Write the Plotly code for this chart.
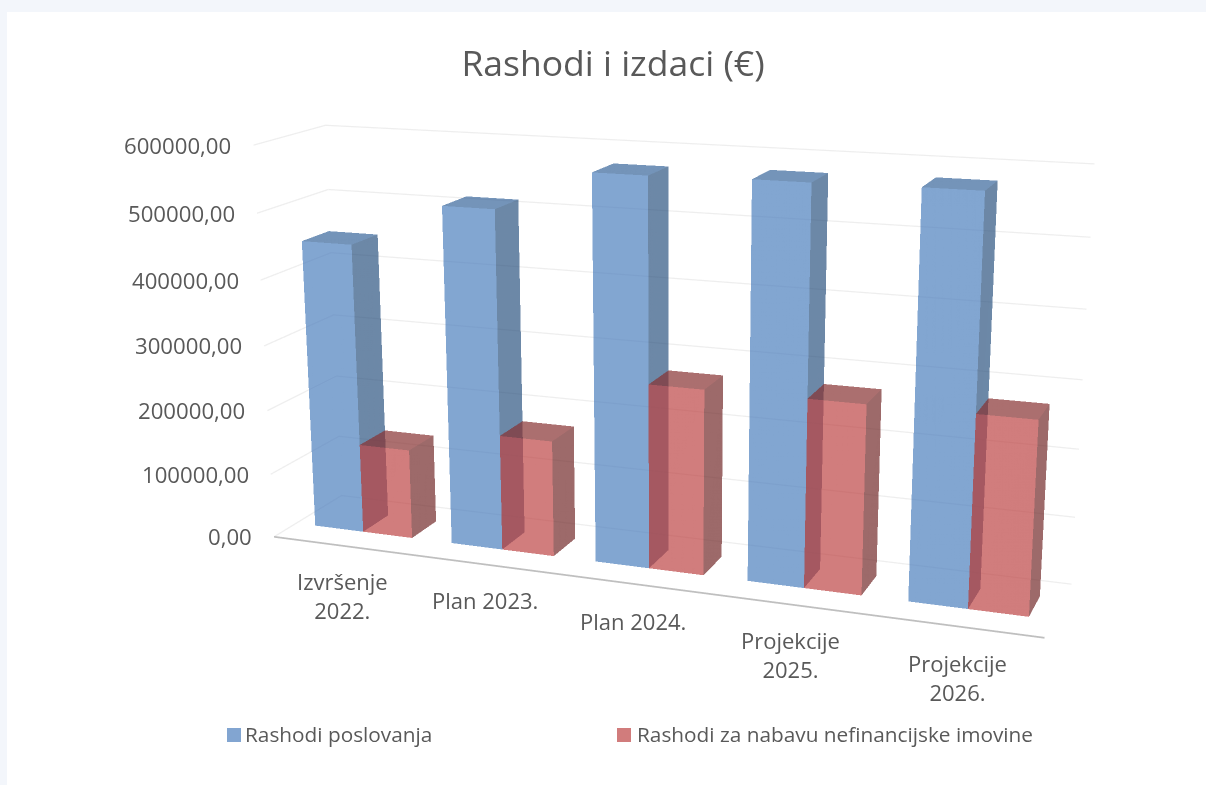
import plotly.graph_objects as go

categories = ["Izvršenje<br>2022.", "Plan 2023.", "Plan 2024.", "Projekcije<br>2025.", "Projekcije<br>2026."]
rashodi_poslovanja = [448000, 515000, 576000, 579000, 581000]
rashodi_nabava = [139000, 177000, 277000, 278000, 279000]
z_ticks = [0, 100000, 200000, 300000, 400000, 500000, 600000]
z_labels = ["0,00", "100000,00", "200000,00", "300000,00", "400000,00", "500000,00", "600000,00"]
series_names = ["Rashodi poslovanja", "Rashodi za nabavu nefinancijske imovine"]
title_text = "Rashodi i izdaci (€)"

label_shift_x = [1, 2, 1, 0, 0]
label_shift_y = [-50, -36, -37, -50, -51]

TEXT = "#595959"
FONT = "Open Sans"
BAR_X = 0.1425
BAR_W = 0.3575
Y0, Y1 = 0.3177, 0.7047
WIN_W, WIN_H = 1206, 785
FIG_H = 1729                     # scene height that gives the chart's weak perspective
TOP = FIG_H / 2 - WIN_H / 2      # the scene centre sits on the window centre


def py(y):
    return 1 - (y + TOP) / FIG_H


def px(x):
    return x / WIN_W


def bars(values, offset, front, side, top, name):
    xs, ys, zs, ii, jj, kk, cols = [], [], [], [], [], [], []
    for c, v in enumerate(values):
        x0 = c + offset
        x1 = x0 + BAR_W
        b = len(xs)
        xs += [x0, x1, x1, x0, x0, x1, x1, x0]
        ys += [Y0, Y0, Y1, Y1, Y0, Y0, Y1, Y1]
        zs += [0, 0, 0, 0, v, v, v, v]
        faces = [(1, 2, 6, side), (1, 6, 5, side), (4, 5, 6, top), (4, 6, 7, top),
                 (0, 1, 5, front), (0, 5, 4, front)]
        for a, d, e, col in faces:
            ii.append(b + a); jj.append(b + d); kk.append(b + e); cols.append(col)
    return go.Mesh3d(x=xs, y=ys, z=zs, i=ii, j=jj, k=kk, facecolor=cols, flatshading=True,
                     lighting=dict(ambient=1, diffuse=0, specular=0, roughness=1, fresnel=0),
                     opacity=0.7, name=name, hoverinfo="skip", showscale=False, showlegend=False)


BLUE = "#82a5d1"
RED = "#d17c7c"
fig = go.Figure()

gx, gy, gz = [], [], []
for t in z_ticks:
    gx += [0, 0, 5, None]
    gy += [0, 1, 1, None]
    gz += [t, t, t, None]
fig.add_trace(go.Scatter3d(x=gx, y=gy, z=gz, mode="lines", line=dict(color="#eeeeee", width=2.5),
                           hoverinfo="skip", showlegend=False, name="grid"))
fig.add_trace(go.Scatter3d(x=[0, 5], y=[0, 0], z=[0, 0], mode="lines", line=dict(color="#bfbfbf", width=3.5),
                           hoverinfo="skip", showlegend=False, name="axis"))
fig.add_trace(bars(rashodi_poslovanja, BAR_X, "#4c7fbd", "#2d5480", "#38659a", series_names[0]))
fig.add_trace(bars(rashodi_nabava, BAR_X + BAR_W, "#bd4444", "#722a2a", "#873131", series_names[1]))

annots = []
for c, lab in enumerate(categories):
    annots.append(dict(x=c + 0.5, y=0, z=0, text=lab, showarrow=False,
                       xshift=label_shift_x[c], yshift=label_shift_y[c],
                       font=dict(family=FONT, size=22, color=TEXT)))
for t, lab in zip(z_ticks, z_labels):
    annots.append(dict(x=0, y=0, z=t, text=lab, showarrow=False, xanchor="right", xshift=-20, yshift=0,
                       font=dict(family=FONT, size=22.2, color=TEXT)))

axis_off = dict(showgrid=False, zeroline=False, showticklabels=False, showbackground=False,
                showline=False, title=dict(text=""), showspikes=False, ticks="")

legend_shapes = [
    dict(type="rect", xref="paper", yref="paper", x0=px(227), x1=px(241), y0=py(742), y1=py(728),
         fillcolor=BLUE, line_width=0),
    dict(type="rect", xref="paper", yref="paper", x0=px(617), x1=px(631), y0=py(742), y1=py(728),
         fillcolor=RED, line_width=0),
]
legend_text = [
    dict(xref="paper", yref="paper", x=px(243), y=py(734), xanchor="left", yanchor="middle", showarrow=False,
         text=series_names[0], font=dict(family=FONT, size=20.8, color=TEXT)),
    dict(xref="paper", yref="paper", x=px(635), y=py(734), xanchor="left", yanchor="middle", showarrow=False,
         text=series_names[1], font=dict(family=FONT, size=20.8, color=TEXT)),
]

fig.update_layout(
    width=WIN_W, height=FIG_H, margin=dict(l=0, r=0, t=0, b=0),
    paper_bgcolor="#f3f6fb",
    showlegend=False,
    title=dict(text=title_text, x=613 / WIN_W, xanchor="center", y=py(64), yanchor="middle",
               font=dict(family=FONT, size=35.5, color=TEXT)),
    shapes=[dict(type="rect", xref="paper", yref="paper", x0=px(7), x1=1, y0=0, y1=py(12),
                 fillcolor="white", line_width=0, layer="below")] + legend_shapes,
    annotations=legend_text,
    scene=dict(
        domain=dict(x=[0, 1], y=[0, 1]),
        dragmode="orbit",
        aspectmode="manual", aspectratio=dict(x=1.9486, y=0.3579, z=1.0),
        camera=dict(eye=dict(x=1.6608, y=-4.5357, z=1.2506),
                    center=dict(x=-0.0716, y=-0.1774, z=-0.0358),
                    up=dict(x=0.0041, y=0.0116, z=1)),
        xaxis=dict(axis_off, range=[0, 5]),
        yaxis=dict(axis_off, range=[0, 1]),
        zaxis=dict(axis_off, range=[0, 600000]),
        annotations=annots,
    ),
)
fig.write_html("out.html", config={"displayModeBar": False},
               post_script="document.body.style.margin='0';document.documentElement.style.overflow='hidden';"
                           "document.body.style.overflow='hidden';document.body.style.height='785px';"
                           "document.getElementById('{plot_id}').style.marginTop='-%dpx';" % round(TOP))
